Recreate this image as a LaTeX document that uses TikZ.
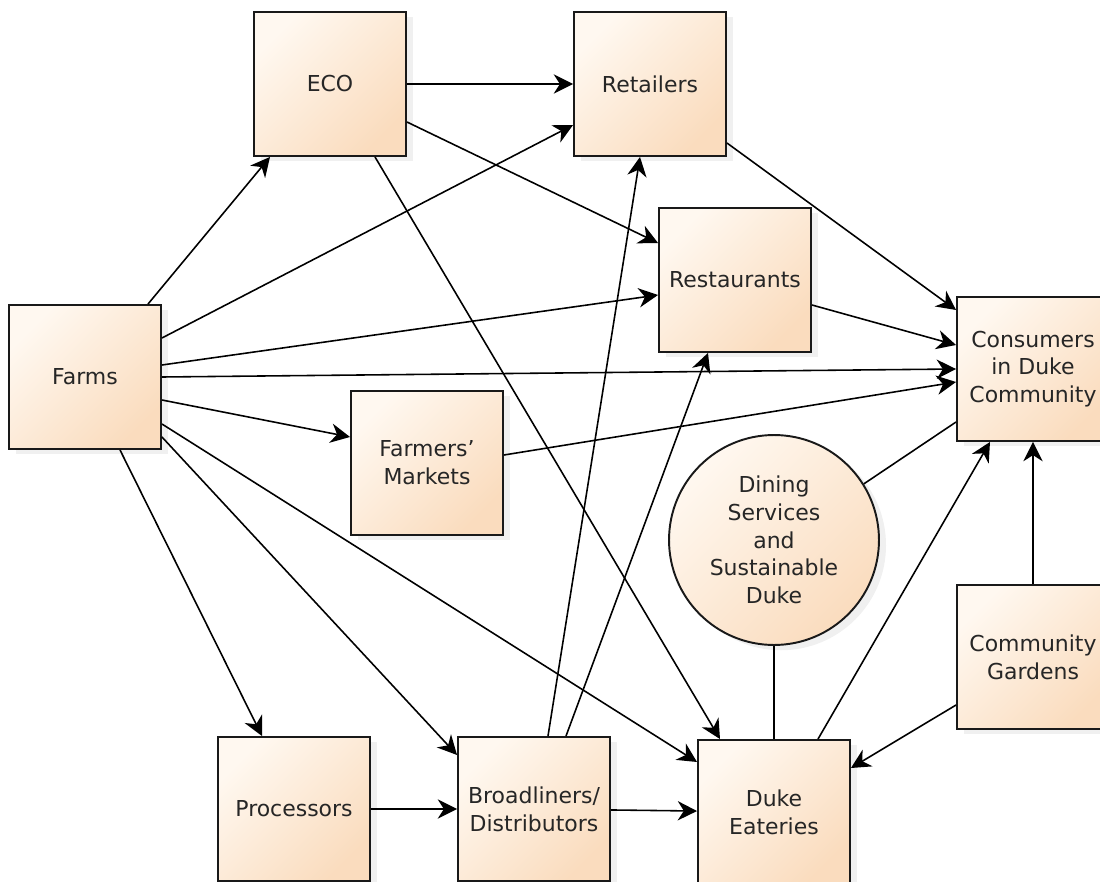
\documentclass[tikz,border=0pt]{standalone}
\usepackage{fontspec}
\setmainfont{DejaVu Sans}
\usepackage{tikz}
\usetikzlibrary{arrows.meta,shadows}

\definecolor{peachlight}{HTML}{FFF8F0}
\definecolor{peachdark}{HTML}{FADCBE}

\begin{document}
\begin{tikzpicture}[x=0.02cm, y=-0.02cm,
    box/.style={draw=black!90, rectangle, line width=1.1pt, minimum width=3.04cm, minimum height=2.88cm,
        top color=peachlight, bottom color=peachdark, shading angle=45,
        drop shadow={shadow xshift=4pt, shadow yshift=-3pt, fill=black!20, opacity=0.3},
        align=center, text=black!85, font=\fontsize{12.5}{15.8}\selectfont},
    hub/.style={box, circle, minimum size=4.2cm, inner sep=0pt},
    arr/.style={-{Stealth[length=11pt, width=11pt, inset=3.5pt]}, line width=0.9pt, draw=black},
    link/.style={line width=0.9pt, draw=black}]
    \useasboundingbox (0,0) rectangle (1100,882);

    \node (eco) [box] at (330,84) {ECO};
    \node (retail) [box] at (650,84) {Retailers};
    \node (rest) [box] at (735,280) {Restaurants};
    \node (farms) [box] at (85,377) {Farms};
    \node (consumers) [box] at (1033,369) {Consumers\\in Duke\\Community};
    \node (markets) [box] at (427,463) {Farmers'\\Markets};
    \node (dining) [hub] at (774,540) {Dining\\Services\\and\\Sustainable\\Duke};
    \node (gardens) [box] at (1033,657) {Community\\Gardens};
    \node (proc) [box] at (294,809) {Processors};
    \node (broad) [box] at (534,809) {Broadliners/\\Distributors};
    \node (eateries) [box] at (774,812) {Duke\\Eateries};

    \draw[arr] (eco) -- (retail);
    \draw[arr] ([shift={(63,0)}]farms.north) -- ([shift={(-60,0)}]eco.south);
    \draw[arr] ([shift={(0,-39)}]farms.east) -- ([shift={(0,41)}]retail.west);
    \draw[arr] ([shift={(0,38)}]eco.east) -- ([shift={(0,-37)}]rest.west);
    \draw[arr] ([shift={(45,0)}]eco.south) -- ([shift={(-54,0)}]eateries.north);
    \draw[arr] ([shift={(0,-12)}]farms.east) -- ([shift={(0,15)}]rest.west);
    \draw[arr] (farms.east) -- (consumers.west);
    \draw[arr] ([shift={(0,23)}]farms.east) -- ([shift={(0,-26)}]markets.west);
    \draw[arr] ([shift={(0,-8)}]markets.east) -- ([shift={(0,13)}]consumers.west);
    \draw[arr] ([shift={(0,47)}]farms.east) -- ([shift={(0,-50)}]eateries.west);
    \draw[arr] ([shift={(0,60)}]farms.east) -- ([shift={(0,-54)}]broad.west);
    \draw[arr] ([shift={(35,0)}]farms.south) -- ([shift={(-32,0)}]proc.north);
    \draw[arr] (proc) -- (broad);
    \draw[arr] (broad) -- (eateries);
    \draw[arr] ([shift={(14,0)}]broad.north) -- ([shift={(-10,0)}]retail.south);
    \draw[arr] ([shift={(32,0)}]broad.north) -- ([shift={(-27,0)}]rest.south);
    \draw[arr] ([shift={(0,59)}]retail.east) -- ([shift={(0,-59)}]consumers.west);
    \draw[arr] ([shift={(0,25)}]rest.east) -- ([shift={(0,-24)}]consumers.west);
    \draw[link] (dining.32) -- ([shift={(0,53)}]consumers.west);
    \draw[link] (dining) -- (eateries);
    \draw[arr] ([shift={(44,0)}]eateries.north) -- ([shift={(-43,0)}]consumers.south);
    \draw[arr] (gardens) -- (consumers);
    \draw[arr] ([shift={(0,48)}]gardens.west) -- ([shift={(0,-44)}]eateries.east);
\end{tikzpicture}
\end{document}
